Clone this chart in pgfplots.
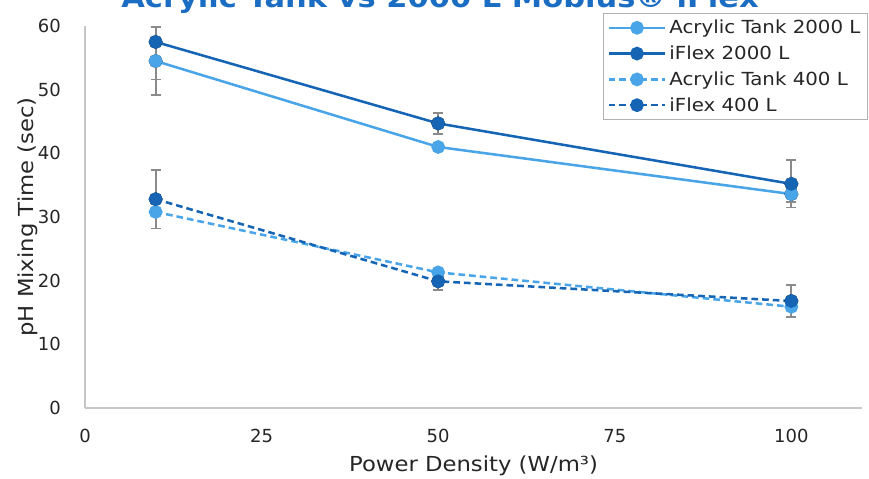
\documentclass[border=0pt]{standalone}
\usepackage{fontspec}
\setmainfont{DejaVu Sans}
\newfontfamily\wide{DejaVu Sans}[FakeStretch=1.1]
\usepackage{pgfplots}
\pgfplotsset{compat=1.18}
\definecolor{lightb}{HTML}{4AA5E8}
\definecolor{darkb}{HTML}{1565B4}
\definecolor{titleb}{HTML}{1A6DC2}
\definecolor{errg}{HTML}{8A8A8A}
\begin{document}
\begin{tikzpicture}
\useasboundingbox (0pt,0pt) rectangle (651.75pt,359.25pt);
\clip (0pt,0pt) rectangle (651.75pt,359.25pt);
\node[anchor=base, font=\wide\bfseries\fontsize{20.8}{22}\selectfont, text=titleb] at (330pt,353.5pt) {Acrylic Tank vs 2000 L Mobius® iFlex};
\begin{axis}[
  at={(63.75pt,53.25pt)}, anchor=south west,
  width=582.75pt, height=286.5pt, scale only axis,
  xmin=0, xmax=110, ymin=0, ymax=60,
  xtick={0,25,50,75,100}, ytick={0,10,...,60},
  axis x line*=bottom, axis y line*=left,
  axis line style={draw=gray!45, line width=1pt, -},
  major tick length=0pt,
  /pgf/number format/assume math mode=true,
  tick label style={font=\fontsize{13.5}{14}\selectfont, text=black!85, inner sep=0pt},
  yticklabel style={xshift=-18pt},
  xticklabel style={yshift=-16pt},
  label style={font=\wide\fontsize{15.5}{16}\selectfont, text=black!85},
  xlabel={Power Density (W/m³)},
  ylabel={pH Mixing Time (sec)},
  xlabel style={at={(axis description cs:0.5,-0.152)}, anchor=center},
  ylabel style={at={(axis description cs:-0.0734,0.5)}, anchor=center},
  legend style={at={(0.6667,1.034)}, anchor=north west, draw=gray!60, fill=white,
    font=\wide\fontsize{13.5}{15}\selectfont, text=black!85, inner xsep=3pt, inner ysep=3pt, row sep=3.6pt},
  legend cell align=left,
  legend image code/.code={\draw[mark repeat=2,mark phase=2,#1] plot coordinates {(0cm,0cm) (0.75cm,0cm) (1.5cm,0cm)};},
  every axis plot/.append style={line width=1.9pt, mark=*, mark size=4.2pt},
  clip=false,
]
% error bars (drawn first, behind)
\addplot[forget plot, only marks, mark=none,
  error bars/.cd, y dir=both, y explicit,
  error bar style={draw=errg, line width=1.4pt},
  error mark options={draw=errg, rotate=90, mark size=3.8pt, line width=1.4pt}]
  coordinates {
  (10,54.5) +- (0,5.3)
  (100,33.6) +- (0,1.2)
  (10,57.5) += (0,2.3) -= (0,5.9)
  (50,44.7) +- (0,1.6)
  (100,35.2) +- (0,3.7)
  (10,32.8) +- (0,4.6)
  (50,19.9) +- (0,1.4)
  (100,16.8) +- (0,2.5)
  };
\addplot[color=lightb, mark options={solid, fill=lightb}] coordinates {(10,54.5) (50,41.0) (100,33.6)};
\addlegendentry{Acrylic Tank 2000 L}
\addplot[color=darkb, mark options={solid, fill=darkb}] coordinates {(10,57.5) (50,44.7) (100,35.2)};
\addlegendentry{iFlex 2000 L}
\addplot[color=lightb, dash pattern=on 5pt off 3pt, mark options={solid, fill=lightb}] coordinates {(10,30.8) (50,21.3) (100,15.9)};
\addlegendentry{Acrylic Tank 400 L}
\addplot[color=darkb, dash pattern=on 5pt off 3pt, mark options={solid, fill=darkb}] coordinates {(10,32.8) (50,19.9) (100,16.8)};
\addlegendentry{iFlex 400 L}
\end{axis}
\end{tikzpicture}
\end{document}
